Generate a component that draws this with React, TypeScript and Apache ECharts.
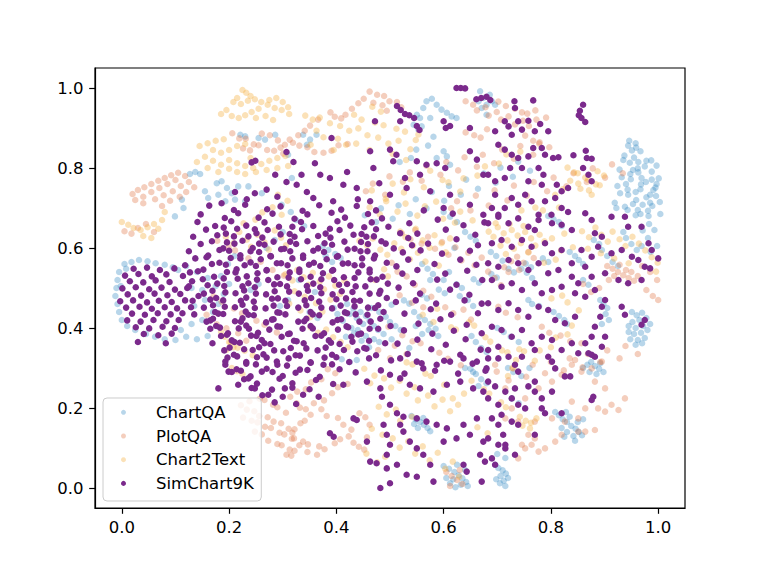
import React, { useEffect, useRef } from "react";
import * as echarts from "echarts";

// All coordinates are in thousandths of the axis unit, flat [x, y, x, y, ...]
const tickValues = [0, 0.2, 0.4, 0.6, 0.8, 1.0];
const seriesNames = ["ChartQA", "PlotQA", "Chart2Text", "SimChart9K"];

// ---------- ChartQA (blue) ----------
const blueLeft = [5,560,18,565,32,570,48,567,63,562,80,558,95,552,-5,540,-8,520,-10,500,-12,480,-8,460,-5,440,0,420,10,405,25,395,45,385,62,378,80,372,100,370,120,378,140,372,160,380,110,395,130,410,150,420,170,440,135,455,155,470,180,460,190,485,175,505,160,525,140,540,120,555,105,545,185,530,200,510,198,560,210,580,8,548,-2,505,130,500,150,495];
const blueTopLeft = [127,785,137,790,146,785,177,762,186,767,196,750,205,737,180,733,193,717,211,721,230,717,217,754,236,754,161,725,155,742,221,883,230,879,255,875,267,871,286,883,115,700,112,721,99,679,261,737,298,708,310,833,317,775];
const blueTop = [562,950,568,967,578,973,587,958,596,946,606,938,615,929,624,925,556,925,559,904,550,933,575,925,668,992,674,975,680,958,671,950,665,967,686,983,690,967,680,933,696,958,338,883,351,871,363,883,345,858,600,842,606,829,587,825,612,808,544,908,553,896];
const blueRight = [944,856,951,844,958,862,937,831,955,826,967,842,978,818,987,819,997,806,988,791,975,804,962,799,947,813,935,820,928,796,948,785,963,789,969,775,988,771,1001,774,995,751,977,765,968,759,949,772,932,777,924,755,943,746,958,740,967,747,985,733,996,730,1003,715,985,713,978,727,959,720,944,733,929,737,919,713,938,703,953,710,962,695,981,693,989,705,1004,685,982,680,967,685,958,682,943,695,922,700,983,660,993,645,981,625,971,644,998,605,986,590,969,605,959,851,946,868,963,815,991,745,971,708,953,795,940,760,997,760];
const blueRight2 = [951,440,960,432,970,438,978,425,965,420,952,415,945,405,958,400,972,405,980,395,968,388,955,385,948,372,962,370,975,375,958,358,970,362,945,390,985,410];
const blueCenter = [420,460,432,448,445,440,455,430,462,418,470,405,478,395,488,385,450,410,438,425,425,435,440,395,455,380,470,372,480,365,465,450,480,440,492,428,500,415,510,405,520,395,428,400,412,418,402,435,395,450,545,440,555,428,565,420,575,410,585,398,560,385,572,395,548,405,590,380,375,605,385,595,398,585,408,575,392,565,380,580,315,690,325,670,340,655,300,640,285,620,270,600,330,520,345,505,360,490,310,470,295,455,350,440,365,425,255,510,240,495,433,387,447,368,418,378,461,352,503,372,536,350];
const blueMidRight = [795,680,805,672,815,665,820,655,835,590,845,580,852,570,860,560,892,470,898,460,905,450,902,435,908,420,895,410,745,548,755,538,765,525,770,512,758,470,765,460,778,455,805,440,815,430,825,420,830,410,688,590,698,580,710,568,640,640,650,628,660,618,620,600,610,540,600,520,630,480,645,470,655,455,700,400,712,390,725,378,740,365,860,520,870,508,880,620,890,610,895,595,905,580,915,565,925,555,935,640,940,625,950,610,960,595,600,690,612,678,625,665,560,560,570,548,580,535,575,520,652,380,660,365,670,350,680,340,720,300,730,290,745,280,760,300,640,300,655,290];
const blueExtra = [453,682,474,665,483,699,505,673,516,707,537,685,548,722,568,699,578,740,601,718,610,755,632,733,642,771,664,748,675,786,697,763,706,801,729,778,739,816,761,793,518,815,539,825,549,846,571,856,581,878,503,458,526,469,536,461,559,483,569,474,591,496,602,487,624,509,634,500,656,522,666,513,689,535,699,526,721,548,731,539,753,561,763,552,785,574,795,565];
const blueBottom = [600,55,610,48,620,40,628,32,635,24,642,15,632,8,622,2,612,12,605,25,618,22,640,45,625,58,645,5,696,58,702,50,710,44,716,36,706,30,698,22,712,18,720,25,705,12,715,5,808,190,815,182,822,172,830,165,838,155,846,148,852,140,858,132,842,130,830,140,820,150,850,165,860,172,835,178,825,128,845,118,828,190,860,300,868,308,875,315,882,305,890,298,898,290,885,285,872,290,892,312,540,180,548,172,556,165,563,158,570,150,552,150,545,160,562,175,575,142,410,322,425,315,438,320,650,298,660,285,670,272,680,262,665,255,727,224,740,212,715,75,700,85];

// ---------- PlotQA (salmon) ----------
const salmonLeft = [20,735,30,745,42,752,55,760,68,768,80,775,92,782,105,788,118,780,100,770,85,760,70,750,55,740,40,728,62,722,78,732,95,742,110,755,125,765,90,718,108,728,40,712,25,720,75,705,120,740,135,752,5,642,18,636,30,650,45,660,60,640];
const salmonTop = [206,887,219,874,231,873,246,859,255,857,271,845,284,843,296,851,304,858,291,869,276,882,261,886,226,849,239,844,301,836,313,871,389,939,397,928,409,924,417,933,462,991,476,983,489,980,499,967,513,965,521,952,469,963,486,957,494,943,451,973,441,962,429,948,366,921,351,906,341,893,329,882,319,863,331,856,346,852,359,840,376,838,391,843,404,857,421,860];
const salmonTopRight = [641,967,655,958,662,944,678,952,684,931,699,940,707,921,721,929,733,909,748,918,759,905,773,921,791,926,702,966,716,955,733,948,746,939,641,889,657,882,669,876,681,897,752,881,767,868,779,864,797,852,756,936,771,944];
const salmonRight = [905,555,915,548,925,540,935,532,945,525,955,518,940,545,928,558,918,530,908,520,950,540,962,530,890,500,875,490,860,510,970,555,985,540,998,520,1000,470,990,480,978,495];
const salmonCenter = [713,552,726,567,737,578,749,563,758,590,768,575,721,540,741,545,522,637,538,622,547,645,559,611,571,628,584,598,597,615,609,583,622,602,633,569,646,588,658,557,671,576,683,541,695,525,707,507,503,563,514,541,531,529,546,508,562,493,577,478,603,452,618,437,637,446,651,421,702,453,716,438,738,427,783,403,797,388,818,381,836,367,857,362,178,618,199,601,211,594,236,574,259,566,281,545,302,531,171,479,186,466,209,449,224,437,251,418,266,408,289,389,158,433,177,409,195,399,217,387,232,368,518,482,541,463,562,452,497,403,523,382,557,362,592,338,608,323,632,307];
const salmonExtra = [455,742,468,761,491,733,499,779,524,766,537,789,559,768,568,806,594,783,605,815,627,794,639,827,662,803,673,833,694,812,709,846,731,823,743,855,767,833,778,861,614,699,625,717,650,694,660,731,684,706,695,744,719,719,731,756,755,731,768,765,793,742,805,776,829,754,842,787,867,765,878,799,901,776,914,809,934,787,699,291,721,269,730,299,754,278,766,308,789,287,800,315,824,294,835,324,859,302,869,335,892,315,905,344,928,324,939,355,962,335,478,345,500,324,509,356,531,335,542,367];
const salmonLowLeft = [314,228,326,212,332,201,343,197,352,183,341,168,333,162,322,147,318,138,321,124,338,116,347,109,368,104,378,97,397,112,407,122,423,129,432,113,442,103,452,96,457,127,428,146,413,158,403,175,382,180,372,197,358,212,377,219,392,237,403,252,421,260,398,287,384,297,372,272,353,264,343,247,327,241,454,177,443,187,462,158,346,90,364,83,322,93,331,107,222,207,233,196,247,192,256,180,272,177,283,166,297,162,311,148,226,176,242,168,253,164,267,153,278,150,294,138,303,134,317,123,273,118,290,110,298,107,313,96,261,134,248,141,307,83,316,81,238,217,257,223,266,220,282,208,290,202,306,188];
const salmonLowRight = [696,308,715,249,752,224,777,249,802,266,820,283,839,308,857,291,882,266,901,249,913,208,938,224,926,195,901,191,888,199,864,199,839,216,851,174,864,141,882,145,851,141,826,166,802,174,770,166,758,133,764,108,777,91,789,99,808,116,820,133,752,99,739,74,770,124,746,108,876,299,895,316,845,320,727,199,739,166,715,174,605,40,615,30,625,20,635,10,612,5,630,45];

// ---------- Chart2Text (yellow) ----------
const yellowTopLeft = [225,995,232,988,240,980,215,975,208,965,222,960,235,968,248,972,260,965,272,958,285,950,298,945,310,952,300,965,288,975,275,970,255,948,242,940,230,932,218,925,205,930,250,925,268,930,282,920,195,945,185,935,312,935,145,855,160,862,175,868,190,872,170,845,185,838,200,845,215,855,230,860,200,820,215,812,230,805,245,800,260,810,275,818,290,825,305,830,155,828,170,818,185,808,200,798,215,790,230,785,250,790,270,795,290,800,310,805,160,800,140,815,180,790,240,825];
const yellowTop = [342,931,356,921,369,926,388,912,407,905,424,893,441,899,458,882,478,876,497,861,516,868,538,847,363,893,376,877,403,873,418,858,437,861,462,845,433,933,447,921,472,914,488,907,512,898,528,891,553,884,467,953,483,941,395,845,352,858,505,835,530,820,548,870,831,801,843,789,850,787,864,776,869,771,884,759,891,757,836,768,851,761,855,748,871,744,876,733,822,747,808,733,887,792,899,781];
const yellowCenter = [684,641,693,628,701,652,712,637,719,619,727,645,738,631,744,612,752,640,763,624,771,606,779,633,788,617,706,606,731,598,758,589,697,662,723,660,749,655,716,585,508,612,521,598,529,627,543,606,552,588,561,619,574,601,583,632,596,612,604,589,612,624,537,572,566,566,591,556,519,641,548,648,305,534,318,519,327,545,339,527,348,508,356,538,369,516,377,497,386,529,398,506,407,485,415,518,322,492,341,478,362,462,389,471,312,461,333,444,351,427,374,441,194,628,208,612,219,640,233,621,241,603,253,633,266,614,274,596,285,644,297,626,306,607,227,662,249,671,262,689,281,702,298,683,309,718,291,733,858,642,871,627,883,651,894,633,906,616,915,641,928,622,939,605,952,628,964,611,976,594,988,577,999,563,869,598,893,587,918,574,945,562,996,541,352,402,366,388,381,396,394,377,408,365,421,352,203,364,216,351,229,343,244,332,443,618,457,607,468,624,482,596,495,583];
const yellowExtra = [462,702,481,684,493,717,514,691,529,711,551,681,565,704,586,716,599,673,621,663,631,691,654,669,466,744,492,723,505,761,526,739,538,772,563,752,575,793,598,770,609,764,631,741,472,520,489,547,496,529,561,433,581,415,588,448,614,402,623,396,647,414,657,406,678,377,687,366,709,344,719,339,741,347,750,342,770,318,779,344,800,352,809,376,831,384,839,406,801,474,821,481,831,464,852,444,652,268,675,247,685,236,707,214,716,202,638,236,617,224,601,258,576,280,566,286,542,309,531,314,787,563,809,571,819,594,841,602,802,624,825,636,745,694,771,701,785,694,815,701,637,774,663,781,677,804,703,811,717,834,743,841];
const yellowLow = [452,298,471,281,463,262,489,274,502,251,518,268,531,236,546,252,552,219,571,231,583,204,598,221,612,192,627,208,479,203,494,184,511,196,519,168,541,178,505,124,518,101,534,117,547,86,561,104,574,69,589,88,603,48,617,66,629,28,466,148,486,133,456,86,476,64,491,78,663,152,682,137,742,178,753,168,763,163,773,174,747,156,761,149,720,280,728,300,735,320];
const yellowLeft = [0,665,12,658,22,650,35,645,48,652,60,660,75,670,80,690,68,648,40,630,55,625,185,390,192,378,200,365,208,352,195,345,205,300,215,292,225,285];

// ---------- SimChart9K (purple) ----------
const simLeft = [22,548,47,551,71,545,98,549,6,531,31,535,56,529,83,534,114,530,15,517,40,514,63,519,89,515,131,517,1,499,26,502,51,497,74,501,99,496,122,500,11,484,36,481,61,486,85,482,109,485,143,480,-3,467,21,469,47,464,69,468,93,465,118,469,8,451,33,453,56,448,80,452,103,449,129,452,19,436,43,433,67,437,91,434,113,437,10,419,35,416,59,420,83,417,106,420,26,402,51,399,76,403,99,400,41,385,68,382,93,386,30,365,82,362];
const simCore = [
163,706,209,695,230,708,271,697,296,704,337,693,368,707,409,696,438,705,474,694,
147,684,192,675,217,687,255,676,281,686,322,673,346,684,391,688,416,676,459,685,485,674,
141,665,174,655,204,667,232,656,266,664,293,653,334,665,357,655,402,667,426,656,466,664,497,653,
157,646,194,636,215,648,251,637,272,645,313,635,336,647,380,636,406,645,447,635,474,647,519,637,
133,628,168,617,209,629,225,618,262,626,283,616,322,628,346,617,389,626,415,616,456,628,484,617,534,625,
147,610,189,599,210,611,244,600,266,608,303,598,325,610,366,599,392,608,434,598,459,610,507,599,541,607,
125,592,161,581,200,593,221,582,256,590,277,580,314,592,338,581,377,590,403,580,445,592,472,581,524,589,
137,574,182,563,203,575,240,564,259,572,297,562,318,574,358,563,382,572,422,562,448,574,494,563,534,571,
118,557,152,546,194,558,214,547,250,555,270,545,309,557,331,546,370,555,394,545,434,557,462,546,512,554,
127,539,172,528,196,540,233,529,253,537,290,527,313,539,352,528,375,537,414,527,441,539,486,528,523,536,
151,522,178,511,216,523,236,512,273,520,295,510,334,522,357,511,396,520,420,510,464,522,496,511,
125,504,169,493,191,505,228,494,248,502,285,492,308,504,347,493,370,502,410,492,436,504,482,493,516,501,
153,486,176,475,212,487,232,476,269,484,291,474,330,486,353,475,393,484,418,474,462,486,494,475,
132,468,170,457,189,469,225,458,246,466,283,456,305,468,344,457,368,466,408,456,433,468,478,457,511,465,
153,451,174,440,211,452,231,441,268,449,290,439,329,451,352,440,392,449,416,439,459,451,488,440,
135,434,170,423,189,435,225,424,246,432,283,422,305,434,344,423,368,432,409,422,436,434,482,423,
158,416,176,405,211,417,232,406,269,414,290,404,329,416,352,405,393,414,419,404,464,416,501,405,
165,398,198,387,218,399,254,388,275,396,313,386,337,398,377,387,403,396,446,386,478,398,
185,380,205,369,241,381,261,370,298,378,321,368,361,380,386,369,428,378,461,368,
169,362,201,351,220,363,256,352,277,360,315,350,339,362,380,351,406,360,452,350,491,362,
191,344,209,333,244,345,264,334,301,342,324,332,365,344,392,333,439,342,474,332,
197,326,232,315,252,327,289,316,311,324,352,314,378,326,424,315,461,324,
193,308,214,297,250,309,270,298,308,306,332,296,376,308,406,297,
205,290,240,279,261,291,300,280,324,288,369,278,436,289,
228,272,252,261,294,273,318,262,362,270,394,260,
242,250,280,246,318,251,350,247,262,232,300,228,338,233,285,214,325,210,
180,249,217,258,248,249,273,233,304,249,199,291,236,274,193,316];
const simCoreFill = [
190,651,248,647,318,653,388,648,452,652,
178,632,236,629,296,634,366,630,432,633,470,629,
196,614,256,611,314,616,378,612,446,615,492,611,
182,595,240,592,297,597,357,593,421,596,458,592,
158,577,221,574,278,579,338,575,401,578,470,574,
168,560,229,557,289,562,349,558,412,561,448,557,
142,542,212,539,270,544,331,540,392,543,462,539,
190,524,252,521,311,526,372,522,434,525,475,521,
160,507,225,504,284,509,345,505,405,508,454,504,
193,489,250,486,312,491,372,487,430,490,480,486,
165,471,222,468,280,473,341,469,400,472,444,468,
192,453,248,450,308,455,372,451,434,454,472,450,
180,436,236,433,294,438,356,434,420,437,458,433,
165,419,222,416,280,421,340,417,402,420,443,416,
183,401,237,398,295,403,356,399,422,402,462,398,
196,383,251,380,310,385,372,381,441,384,
210,365,266,362,326,367,390,363,430,366,
228,347,284,344,344,349,414,345,456,348,
215,329,270,326,332,331,400,327,
232,311,290,308,352,313,392,309,
222,293,281,290,346,295];
const simUpper = [242,814,249,818,286,783,307,840,307,765,211,740,248,737,270,746,233,722,290,728,186,712,624,1000,632,1000,640,999,661,972,670,975,680,978,687,970,513,955,520,945,528,935,536,932,545,925,550,905,555,895,472,917,519,917,600,917,604,900,612,905,649,900,391,875,463,842,500,846,512,833,550,817,568,808,587,812,603,800,649,842,662,821,674,783,388,775,370,783,335,783,469,800,506,817,528,775,556,783,438,750,463,717,500,733,531,750,575,742,612,733,413,758,357,725,394,717,600,700,649,708,674,683,326,758,345,740,420,790,440,722,480,762,360,812,320,815,732,967,733,950,767,969,860,958,854,943,852,932,857,925,864,915,714,917,721,904,739,917,758,918,780,910,795,892,770,892,746,896,727,883,696,892,702,858,714,846,727,833,739,825,758,829,783,850,789,833,767,850,804,825,814,827,842,832,865,843,867,825,876,823,860,800,870,783,876,767,683,783,696,767,714,775,724,800,746,800,777,800,758,767,786,783,783,758,752,733,727,725,696,733,690,700,714,700,739,708,764,717,789,717,811,758,820,742,832,750,808,725,820,700,832,690,777,683,801,683,702,683];
const simRight = [683,662,702,678,721,662,739,674,758,653,777,670,770,645,802,662,820,658,839,645,864,687,876,670,882,637,895,628,913,678,938,678,944,653,969,653,982,612,988,595,1000,574,690,612,708,620,727,603,746,620,764,603,789,612,802,587,820,595,839,562,857,595,876,578,864,553,888,603,913,587,932,595,951,578,963,570,975,553,985,549,683,562,702,553,721,570,739,562,758,545,777,562,795,537,814,545,839,528,851,512,876,528,901,537,926,520,944,512,969,520,690,520,708,503,727,512,746,495,770,512,783,487,802,495,820,503,845,487,864,478,882,495,895,453,901,470,892,428,882,403,876,378,864,362,870,337,683,462,702,445,721,462,739,445,758,428,777,453,795,445,808,420,826,412,845,428,932,453,938,433,690,403,708,395,727,378,746,395,764,362,783,378,802,370,820,345,839,362,851,337,901,378,895,353,882,328,683,345,702,353,721,328,746,328,770,345,795,328,975,420,969,408];
const simMid = [563,694,617,686,536,662,589,671,637,657,676,664,551,636,604,646,659,633,571,611,624,622,664,607,557,594,597,586,649,593,583,560,631,571,661,558,551,545,603,536,644,543,543,512,588,521,624,508,672,520,556,486,612,496,648,483,548,469,586,461,639,469,671,461,527,436,576,447,614,433,664,437,553,411,594,422,643,408,526,394,579,386,619,393,671,387,514,361,551,371,604,358,641,372,533,335,577,347,631,333,669,346,502,319,559,312,601,318,654,311,483,294,527,286,584,293,627,286,678,293];
const simLower = [519,324,550,316,562,299,587,308,612,316,637,324,662,316,680,299,413,258,457,266,482,249,500,283,519,274,537,258,556,249,581,241,606,258,631,266,655,249,674,241,367,228,432,174,438,170,388,137,395,128,485,228,500,208,513,187,525,178,519,158,550,174,568,166,587,158,606,149,637,158,662,174,457,116,488,158,494,133,500,108,494,83,525,141,537,116,550,99,562,83,575,58,600,116,624,124,649,133,674,116,668,83,463,66,475,62,494,49,513,58,531,33,550,28,581,16,637,58,643,41,671,16,482,0,500,12,683,324,702,324,733,308,739,291,802,316,808,299,826,279,836,279,876,333,879,228,876,220,683,266,696,254,715,241,733,249,758,254,770,241,783,224,770,266,802,241,683,224,702,208,727,224,739,208,752,199,783,199,789,187,820,187,690,174,708,183,727,166,739,158,702,158,770,133,683,124,702,108,715,99,733,83,690,74,696,58,677,66,711,133,715,108];

const toPoints = (...arrs: number[][]) => {
  const out: number[][] = [];
  arrs.forEach((a) => {
    for (let i = 0; i + 1 < a.length; i += 2) out.push([a[i] / 1000, a[i + 1] / 1000]);
  });
  return out;
};

const chartQA = toPoints(blueLeft, blueTopLeft, blueTop, blueRight, blueRight2, blueCenter, blueMidRight, blueExtra, blueBottom);
const plotQA = toPoints(salmonLeft, salmonTop, salmonTopRight, salmonRight, salmonCenter, salmonExtra, salmonLowLeft, salmonLowRight);
const chart2Text = toPoints(yellowTopLeft, yellowTop, yellowCenter, yellowExtra, yellowLow, yellowLeft);
const simChart = toPoints(simLeft, simCore, simCoreFill, simUpper, simRight, simMid, simLower);

const colors = ["rgba(46,134,193,0.34)", "rgba(222,112,62,0.34)", "rgba(245,176,65,0.38)", "#7B2A8C"];
const FONT = "DejaVu Sans";

export default function App() {
  const ref = useRef<HTMLDivElement>(null);
  useEffect(() => {
    if (!ref.current) return;
    const chart = echarts.init(ref.current, undefined, { renderer: "svg" });
    const axisCommon = (isX: boolean) => ({
      type: "value",
      min: -0.05,
      max: 1.05,
      splitLine: { show: false },
      axisLine: { show: true, onZero: false, lineStyle: { color: "#000", width: 1.2 } },
      axisTick: { show: true, inside: false, length: 5.8, lineStyle: { color: "#000", width: 1.2 }, customValues: tickValues },
      axisLabel: {
        show: true,
        customValues: tickValues,
        margin: isX ? 10.5 : 11.5,
        fontSize: 16.5,
        fontFamily: FONT,
        color: "#000",
        formatter: (v: number) => v.toFixed(1),
      },
    });
    const datasets = [chartQA, plotQA, chart2Text, simChart];
    chart.setOption({
      animation: false,
      backgroundColor: "#fff",
      grid: { left: 95, top: 68, width: 590, height: 440, show: true, borderColor: "#000", borderWidth: 1.2, backgroundColor: "transparent" },
      xAxis: axisCommon(true),
      yAxis: axisCommon(false),
      legend: {
        data: seriesNames,
        orient: "vertical",
        left: 103,
        top: 398,
        icon: "circle",
        itemWidth: 10,
        itemHeight: 5,
        itemGap: 3.7,
        padding: [4.3, 7.5, 7.6, 18],
        backgroundColor: "rgba(255,255,255,0.8)",
        borderColor: "#cccccc",
        borderWidth: 1,
        borderRadius: 4,
        selectedMode: false,
        textStyle: { fontSize: 16.5, fontFamily: FONT, color: "#000", lineHeight: 20, padding: [0, 0, 0, 22.5] },
      },
      series: seriesNames.map((name, i) => ({
        name,
        type: "scatter",
        data: datasets[i],
        symbol: "circle",
        symbolSize: 6.5,
        silent: true,
        itemStyle: { color: colors[i], opacity: 1 },
        emphasis: { disabled: true },
      })),
    });
    return () => chart.dispose();
  }, []);
  return <div ref={ref} style={{ position: "absolute", left: 0, top: 0, width: 761, height: 571 }} />;
}
